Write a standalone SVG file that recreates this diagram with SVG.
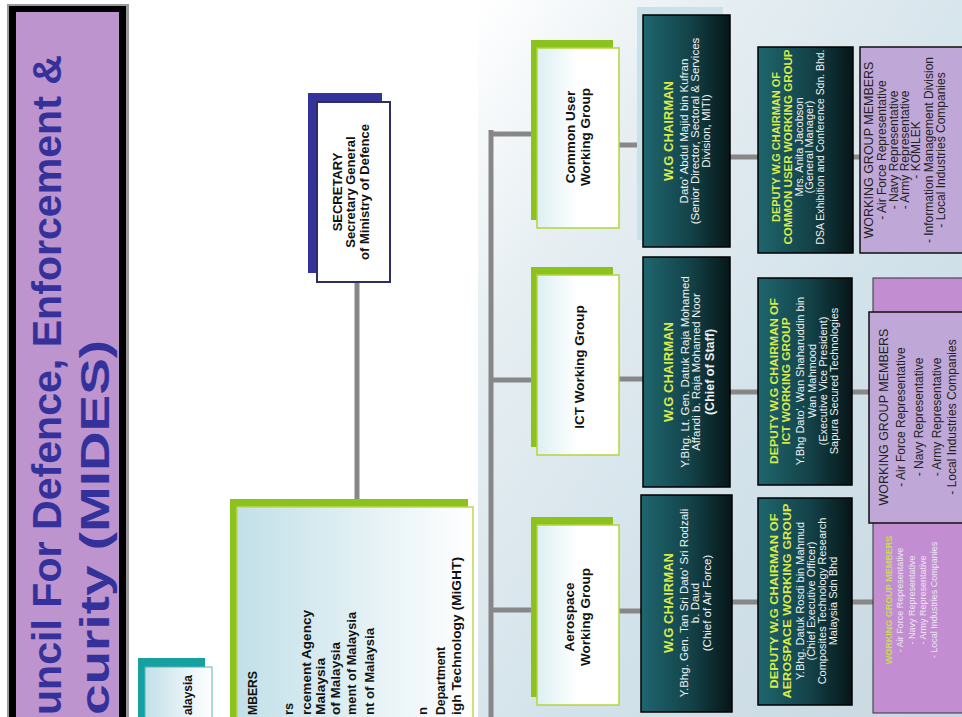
<svg xmlns="http://www.w3.org/2000/svg" width="962" height="717" viewBox="0 0 962 717">
<defs>
<linearGradient id="bg" x1="0" y1="0" x2="1" y2="1">
<stop offset="0" stop-color="#FFFFFF"/>
<stop offset="0.25" stop-color="#E6EEF2"/>
<stop offset="0.6" stop-color="#D2E2EA"/>
<stop offset="1" stop-color="#C9D8E0"/>
</linearGradient>
<linearGradient id="bw" x1="0" y1="0" x2="1" y2="0">
<stop offset="0" stop-color="#C2E0E8"/>
<stop offset="1" stop-color="#FFFFFF"/>
</linearGradient>
<linearGradient id="gw" x1="0" y1="0" x2="1" y2="0">
<stop offset="0" stop-color="#DDEFF3"/>
<stop offset="0.5" stop-color="#FFFFFF"/>
<stop offset="1" stop-color="#FFFFFF"/>
</linearGradient>
<linearGradient id="teal" x1="0" y1="0" x2="1" y2="0">
<stop offset="0" stop-color="#1F666E"/>
<stop offset="0.55" stop-color="#134248"/>
<stop offset="1" stop-color="#061618"/>
</linearGradient>
<style>
text{font-family:"Liberation Sans",Arial,sans-serif}
.title{font-weight:bold;font-size:40px;fill:#34329A}
.conn line{stroke:#878787;stroke-width:5}
.gback{fill:#8CC21E}
.gfront{fill:url(#gw);stroke:#B4D43A;stroke-width:1.5}
.wg{font-weight:bold;font-size:13.5px;fill:#111;text-anchor:middle}
.box{fill:url(#teal);stroke:#000;stroke-width:1.5}
.yel{font-weight:bold;fill:#D9EA4C;text-anchor:middle}
.wht{fill:#EEF2F2;text-anchor:middle}
.cb{font-size:11.5px}
.db{font-size:11px}
.mem{fill:#BFA7D8;stroke:#111;stroke-width:1.5}
.mt{fill:#222;font-size:12px;text-anchor:middle}
.bk{font-weight:bold;font-size:13.5px;fill:#111}
</style>
</defs>
<rect x="0" y="0" width="962" height="717" fill="#FFFFFF"/>
<rect x="478" y="0" width="484" height="717" fill="url(#bg)"/>

<g id="title">
<rect x="7" y="4" width="122" height="720" fill="#9A9A9A"/>
<rect x="9" y="6" width="117" height="720" fill="#000"/>
<rect x="16" y="12" width="103" height="720" fill="#BE94CE"/>
<text class="title" transform="translate(0,717) rotate(-90)" x="2" y="61" textLength="660" lengthAdjust="spacingAndGlyphs">uncil For Defence, Enforcement &amp;</text>
<text class="title" transform="translate(0,717) rotate(-90)" x="2" y="109" textLength="375" lengthAdjust="spacingAndGlyphs">curity (MIDES)</text>
</g>

<g class="conn" id="connectors">
<line x1="357" y1="282" x2="357" y2="500"/>
<line x1="491" y1="130" x2="491" y2="717"/>
<line x1="489" y1="134" x2="533" y2="134"/>
<line x1="489" y1="380" x2="533" y2="380"/>
<line x1="489" y1="610" x2="533" y2="610"/>
<line x1="619" y1="145" x2="643" y2="145"/>
<line x1="619" y1="379" x2="643" y2="379"/>
<line x1="619" y1="611" x2="641" y2="611"/>
<line x1="730" y1="157" x2="758" y2="157"/>
<line x1="730" y1="392" x2="758" y2="392"/>
<line x1="732" y1="602" x2="758" y2="602"/>
<line x1="853" y1="157" x2="860" y2="157"/>
<line x1="852" y1="392" x2="869" y2="392"/>
<line x1="852" y1="602" x2="873" y2="602"/>
</g>

<g id="council">
<rect x="230" y="499" width="238" height="225" fill="#8CC21E"/>
<rect x="237" y="507" width="236" height="215" fill="url(#bw)" stroke="#BCD94A" stroke-width="1.5"/>
<g transform="translate(0,717) rotate(-90)">
<text class="bk" x="2" y="257" textLength="44" lengthAdjust="spacingAndGlyphs">MBERS</text>
<text class="bk" x="2" y="293" textLength="12" lengthAdjust="spacingAndGlyphs">rs</text>
<text class="bk" x="2" y="311" textLength="105" lengthAdjust="spacingAndGlyphs">rcement Agency</text>
<text class="bk" x="2" y="325" textLength="57" lengthAdjust="spacingAndGlyphs">Malaysia</text>
<text class="bk" x="2" y="340" textLength="73" lengthAdjust="spacingAndGlyphs">of Malaysia</text>
<text class="bk" x="2" y="356" textLength="103" lengthAdjust="spacingAndGlyphs">ment of Malaysia</text>
<text class="bk" x="2" y="374" textLength="87" lengthAdjust="spacingAndGlyphs">nt of Malaysia</text>
<text class="bk" x="2" y="427" textLength="8" lengthAdjust="spacingAndGlyphs">n</text>
<text class="bk" x="2" y="445" textLength="68" lengthAdjust="spacingAndGlyphs">Department</text>
<text class="bk" x="2" y="461" textLength="158" lengthAdjust="spacingAndGlyphs">igh Technology (MiGHT)</text>
</g>
</g>

<g id="chairman-council">
<rect x="138" y="658" width="67" height="65" fill="#16A0A0"/>
<rect x="145" y="667" width="67" height="55" fill="url(#bw)" stroke="#55B5B5" stroke-width="1"/>
<text class="bk" style="font-size:12px" transform="translate(0,717) rotate(-90)" x="2" y="192" textLength="40" lengthAdjust="spacingAndGlyphs">alaysia</text>
</g>

<g id="secretary">
<rect x="308" y="93" width="74" height="180" fill="#333399"/>
<rect x="317" y="102" width="73" height="180" fill="#FFFFFF" stroke="#2E2E60" stroke-width="2"/>
<g transform="translate(0,192) rotate(-90)" style="font-weight:bold;font-size:13px;fill:#111;text-anchor:middle">
<text x="0" y="342">SECRETARY</text>
<text x="0" y="355">Secretary General</text>
<text x="0" y="369">of Ministry of Defence</text>
</g>
</g>

<g id="wg-common">
<rect class="gback" x="531" y="40" width="82" height="180"/>
<rect class="gfront" x="537" y="48" width="82" height="180"/>
<g transform="translate(0,137) rotate(-90)">
<text class="wg" x="0" y="575">Common User</text>
<text class="wg" x="0" y="590">Working Group</text>
</g>
</g>
<g id="wg-ict">
<rect class="gback" x="531" y="267" width="82" height="180"/>
<rect class="gfront" x="537" y="275" width="82" height="180"/>
<text class="wg" transform="translate(0,367) rotate(-90)" x="0" y="584">ICT  Working Group</text>
</g>
<g id="wg-aero">
<rect class="gback" x="531" y="517" width="82" height="180"/>
<rect class="gfront" x="537" y="525" width="82" height="180"/>
<g transform="translate(0,617) rotate(-90)">
<text class="wg" x="0" y="574">Aerospace</text>
<text class="wg" x="0" y="590">Working Group</text>
</g>
</g>

<g id="chair-common">
<rect x="637" y="7" width="86" height="233" fill="#C9E2EA"/>
<rect class="box" x="643" y="15" width="87" height="232"/>
<g transform="translate(0,131) rotate(-90)">
<text class="yel" x="0" y="673" style="font-size:13.5px" textLength="100" lengthAdjust="spacingAndGlyphs">W.G CHAIRMAN</text>
<text class="wht cb" x="0" y="688">Dato' Abdul Majid bin Kufran</text>
<text class="wht cb" x="0" y="699">(Senior Director, Sectoral &amp; Services</text>
<text class="wht cb" x="0" y="710">Division, MITI)</text>
</g>
</g>
<g id="chair-ict">
<rect class="box" x="643" y="257" width="87" height="230"/>
<g transform="translate(0,372) rotate(-90)">
<text class="yel" x="0" y="673" style="font-size:13.5px" textLength="100" lengthAdjust="spacingAndGlyphs">W.G CHAIRMAN</text>
<text class="wht cb" x="0" y="689">Y.Bhg. Lt. Gen. Datuk Raja Mohamed</text>
<text class="wht cb" x="0" y="700">Affandi b. Raja Mohamed Noor</text>
<text class="wht" x="0" y="714" style="font-size:12.5px;font-weight:bold">(Chief of Staff)</text>
</g>
</g>
<g id="chair-aero">
<rect class="box" x="641" y="495" width="91" height="217"/>
<g transform="translate(0,603) rotate(-90)">
<text class="yel" x="0" y="673" style="font-size:13.5px" textLength="100" lengthAdjust="spacingAndGlyphs">W.G CHAIRMAN</text>
<text class="wht cb" x="0" y="688">Y.Bhg. Gen. Tan Sri Dato' Sri Rodzali</text>
<text class="wht cb" x="0" y="699">b. Daud</text>
<text class="wht cb" x="0" y="711">(Chief of Air Force)</text>
</g>
</g>

<g id="deputy-common">
<rect class="box" x="758" y="47" width="95" height="206"/>
<g transform="translate(0,147) rotate(-90)">
<text class="yel" x="0" y="780" style="font-size:11.5px" textLength="150" lengthAdjust="spacingAndGlyphs">DEPUTY W.G CHAIRMAN OF</text>
<text class="yel" x="0" y="792" style="font-size:11.5px" textLength="195" lengthAdjust="spacingAndGlyphs">COMMON USER WORKING GROUP</text>
<text class="wht db" x="0" y="803">Mrs. Anita  Jacobson</text>
<text class="wht db" x="0" y="813">(General Manager)</text>
<text class="wht db" x="0" y="824" textLength="195" lengthAdjust="spacingAndGlyphs">DSA Exhibition  and Conference  Sdn. Bhd.</text>
</g>
</g>
<g id="deputy-ict">
<rect class="box" x="758" y="278" width="94" height="207"/>
<g transform="translate(0,381) rotate(-90)">
<text class="yel" x="0" y="778" style="font-size:11.5px" textLength="166" lengthAdjust="spacingAndGlyphs">DEPUTY W.G CHAIRMAN OF</text>
<text class="yel" x="0" y="790" style="font-size:11.5px" textLength="127" lengthAdjust="spacingAndGlyphs">ICT WORKING GROUP</text>
<text class="wht db" x="0" y="804">Y.Bhg Dato'. Wan Shaharuddin bin</text>
<text class="wht db" x="0" y="816">Wan Mahmood</text>
<text class="wht db" x="0" y="827">(Executive Vice President)</text>
<text class="wht db" x="0" y="838">Sapura Secured Technologies</text>
</g>
</g>
<g id="deputy-aero">
<rect class="box" x="758" y="498" width="94" height="207"/>
<g transform="translate(0,601) rotate(-90)">
<text class="yel" x="0" y="778" style="font-size:11.5px" textLength="175" lengthAdjust="spacingAndGlyphs">DEPUTY W.G CHAIRMAN OF</text>
<text class="yel" x="0" y="791" style="font-size:11.5px" textLength="195" lengthAdjust="spacingAndGlyphs">AEROSPACE WORKING GROUP</text>
<text class="wht db" x="0" y="804">Y.Bhg. Datuk Rosdi bin Mahmud</text>
<text class="wht db" x="0" y="815">(Chief Executive Officer)</text>
<text class="wht db" x="0" y="826">Composites Technology Research</text>
<text class="wht db" x="0" y="837">Malaysia Sdn Bhd</text>
</g>
</g>

<g id="members-common">
<rect class="mem" x="860" y="47" width="106" height="206"/>
<g transform="translate(0,150) rotate(-90)">
<text class="mt" x="0" y="873" style="font-size:12.5px">WORKING GROUP MEMBERS</text>
<text class="mt" x="0" y="886">- Air Force Representative</text>
<text class="mt" x="0" y="898">- Navy Representative</text>
<text class="mt" x="0" y="909">- Army Representative</text>
<text class="mt" x="0" y="920">- KOMLEK</text>
<text class="mt" x="0" y="933">- Information Management Division</text>
<text class="mt" x="0" y="945">- Local Industries Companies</text>
</g>
</g>

<g id="members-aero">
<rect x="873" y="278" width="95" height="435" fill="#C28ED1" stroke="#333" stroke-width="1"/>
<g transform="translate(0,600) rotate(-90)" style="font-size:9px;text-anchor:middle">
<text x="0" y="892" style="fill:#C8DC52;font-weight:bold">WORKING GROUP MEMBERS</text>
<text x="0" y="903" style="fill:#EDE6F2">- Air Force Representative</text>
<text x="0" y="915" style="fill:#EDE6F2">- Navy Representative</text>
<text x="0" y="926" style="fill:#EDE6F2">- Army Representative</text>
<text x="0" y="937" style="fill:#EDE6F2">- Local Industries Companies</text>
</g>
</g>

<g id="members-ict">
<rect class="mem" x="869" y="312" width="97" height="211"/>
<g transform="translate(0,417) rotate(-90)">
<text class="mt" x="0" y="888" style="font-size:12.5px">WORKING GROUP MEMBERS</text>
<text class="mt" x="0" y="905">- Air Force Representative</text>
<text class="mt" x="0" y="923">- Navy Representative</text>
<text class="mt" x="0" y="941">- Army Representative</text>
<text class="mt" x="0" y="956">- Local Industries Companies</text>
</g>
</g>
</svg>
